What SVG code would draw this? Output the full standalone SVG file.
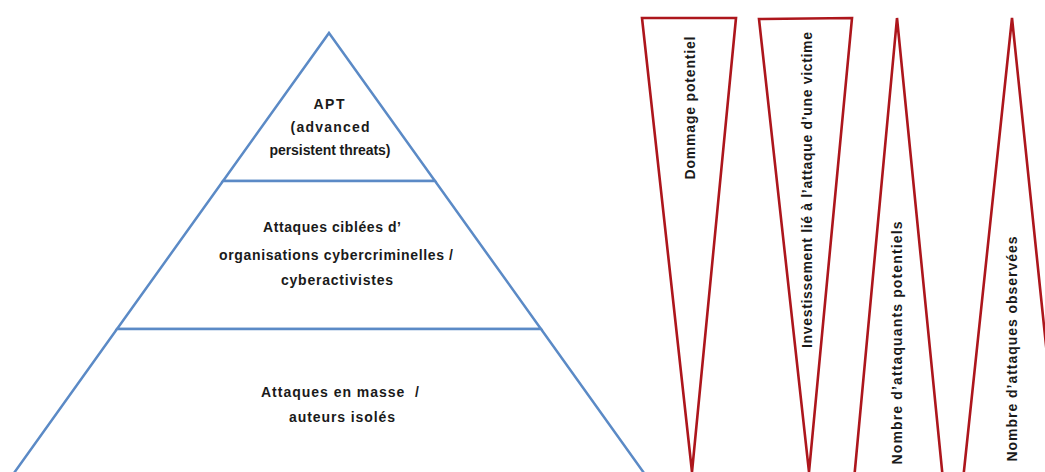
<svg xmlns="http://www.w3.org/2000/svg" width="1045" height="472" viewBox="0 0 1045 472">
<style>
.tier{fill:#ffffff;stroke:#5b8ac6;stroke-width:2.5;stroke-linejoin:miter}
.wedge{fill:#ffffff;stroke:#ad161c;stroke-width:2.6;stroke-linejoin:miter}
.lbl{font-family:"Liberation Sans",Arial,sans-serif;font-size:14px;font-weight:bold;fill:#1a1a1a;text-anchor:middle}
</style>
<rect width="1045" height="472" fill="#ffffff"/>
<g id="pyramid">
  <g id="tier-apt">
    <polygon class="tier" points="329,33 435,181 223,181"/>
    <text class="lbl" x="329" y="109" textLength="31" lengthAdjust="spacing">APT</text>
    <text class="lbl" x="330" y="132" textLength="79" lengthAdjust="spacing">(advanced</text>
    <text class="lbl" x="330" y="155" textLength="121" lengthAdjust="spacing">persistent threats)</text>
  </g>
  <g id="tier-targeted">
    <polygon class="tier" points="223,181 435,181 541,329 117,329"/>
    <text class="lbl" x="332" y="232" textLength="138" lengthAdjust="spacing">Attaques ciblées d’</text>
    <text class="lbl" x="336" y="260" textLength="234" lengthAdjust="spacing">organisations cybercriminelles /</text>
    <text class="lbl" x="337" y="285" textLength="112" lengthAdjust="spacing">cyberactivistes</text>
  </g>
  <g id="tier-mass">
    <polygon class="tier" points="117,329 541,329 649,480 9,480"/>
    <text class="lbl" x="340" y="397" textLength="158" lengthAdjust="spacing" xml:space="preserve">Attaques en masse  /</text>
    <text class="lbl" x="342" y="422" textLength="106" lengthAdjust="spacing">auteurs isolés</text>
  </g>
</g>
<g id="wedge-dommage">
  <polygon class="wedge" points="642,18 736,18 692,472"/>
  <text class="lbl" transform="translate(695,108) rotate(-90)" x="0" y="0" textLength="143" lengthAdjust="spacing">Dommage potentiel</text>
</g>
<g id="wedge-investissement">
  <polygon class="wedge" points="759,19 852,18 809,472"/>
  <text class="lbl" transform="translate(812,190) rotate(-90)" x="0" y="0" textLength="316" lengthAdjust="spacing">Investissement lié à l’attaque d’une victime</text>
</g>
<g id="wedge-attaquants">
  <polygon class="wedge" points="897,18 943,480 854,480"/>
  <text class="lbl" transform="translate(902,343) rotate(-90)" x="0" y="0" textLength="243" lengthAdjust="spacing">Nombre d’attaquants potentiels</text>
</g>
<g id="wedge-observees">
  <polygon class="wedge" points="1012,18 1060,480 963,480"/>
  <text class="lbl" transform="translate(1017,349) rotate(-90)" x="0" y="0" textLength="225" lengthAdjust="spacing">Nombre d’attaques observées</text>
</g>
</svg>
